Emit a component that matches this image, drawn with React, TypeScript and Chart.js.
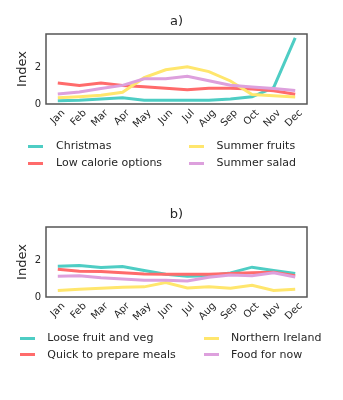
import React, { useEffect, useRef } from "react";
import { Chart, registerables } from "chart.js";

Chart.register(...registerables);

// ---------- data ----------
const months = ["Jan", "Feb", "Mar", "Apr", "May", "Jun", "Jul", "Aug", "Sep", "Oct", "Nov", "Dec"];
const yTickValues = [0, 2];

// panel a)
const christmas = [0.18, 0.2, 0.27, 0.34, 0.2, 0.2, 0.2, 0.2, 0.27, 0.39, 0.89, 3.59];
const lowCalorie = [1.14, 1.0, 1.14, 1.0, 0.93, 0.85, 0.78, 0.85, 0.85, 0.82, 0.72, 0.53];
const summerFruits = [0.34, 0.4, 0.47, 0.64, 1.43, 1.86, 2.02, 1.76, 1.25, 0.52, 0.45, 0.38];
const summerSalad = [0.54, 0.65, 0.84, 1.01, 1.37, 1.37, 1.51, 1.26, 1.02, 0.92, 0.84, 0.73];

// panel b)
const looseFruit = [1.67, 1.71, 1.6, 1.65, 1.44, 1.24, 1.13, 1.16, 1.31, 1.62, 1.44, 1.27];
const quickMeals = [1.51, 1.4, 1.38, 1.31, 1.25, 1.24, 1.24, 1.24, 1.27, 1.31, 1.35, 1.16];
const northernIreland = [0.35, 0.42, 0.47, 0.53, 0.55, 0.78, 0.49, 0.55, 0.47, 0.64, 0.35, 0.42];
const foodForNow = [1.13, 1.15, 1.05, 0.98, 0.91, 0.91, 0.87, 1.07, 1.2, 1.16, 1.31, 1.09];

const TEAL = "#4ECDC4";
const RED = "#FF6B6B";
const YELLOW = "#FFE66D";
const PLUM = "#DDA0DD";

const FONT = "'DejaVu Sans', sans-serif";
const TEXT = "#262626";

type Series = { name: string; data: number[]; color: string };
type LegendPos = { sym: number; text: number; y: number };

const framePlugin = {
  id: "frameAndLabels",
  afterDraw(chart: any, _args: any, opts: any) {
    const { ctx, chartArea: a } = chart;
    ctx.save();
    ctx.strokeStyle = "#555555";
    ctx.lineWidth = 1.5;
    ctx.strokeRect(a.left - 1, a.top, a.right - a.left + 2, a.bottom - a.top);
    ctx.fillStyle = TEXT;
    ctx.font = `13px ${FONT}`;
    ctx.textAlign = "center";
    ctx.textBaseline = "middle";
    ctx.fillText(opts.title, (a.left + a.right) / 2, 22);
    ctx.translate(23, (a.top + a.bottom) / 2);
    ctx.rotate(-Math.PI / 2);
    ctx.fillText("Index", 0, 0);
    ctx.restore();
  },
};

function Panel({ title, series, top, legend }: { title: string; series: Series[]; top: number; legend: LegendPos[] }) {
  const ref = useRef<HTMLCanvasElement>(null);
  useEffect(() => {
    if (!ref.current) return;
    const chart = new Chart(ref.current, {
      type: "line",
      data: {
        labels: months,
        datasets: series.map((s, i) => ({
          label: s.name,
          data: s.data,
          borderColor: s.color,
          backgroundColor: s.color,
          borderWidth: 3,
          pointRadius: 0,
          tension: 0,
          fill: false,
          order: series.length - i,
        })),
      },
      options: {
        animation: false,
        responsive: false,
        layout: { padding: { left: 0, right: 37, top: 34, bottom: 59 } },
        plugins: {
          legend: { display: false },
          tooltip: { enabled: false },
          frameAndLabels: { title },
        } as any,
        scales: {
          x: {
            type: "category",
            offset: true,
            grid: { display: false, drawTicks: false },
            border: { display: false },
            ticks: {
              autoSkip: false,
              minRotation: 45,
              maxRotation: 45,
              labelOffset: 5.5,
              padding: 3.3,
              color: TEXT,
              font: { family: FONT, size: 10 },
            },
            afterFit: (s: any) => {
              s.height = 30;
            },
          },
          y: {
            min: 0,
            max: 3.8,
            grid: { display: false, drawTicks: false },
            border: { display: false },
            ticks: {
              padding: 6,
              color: TEXT,
              font: { family: FONT, size: 10 },
            },
            afterBuildTicks: (s: any) => {
              s.ticks = yTickValues.map((v) => ({ value: v }));
            },
            afterFit: (s: any) => {
              s.width = 47;
            },
          },
        },
      },
      plugins: [framePlugin],
    });
    return () => chart.destroy();
  }, []);

  return (
    <div style={{ position: "absolute", left: 0, top, width: 343, height: 193 }}>
      <canvas ref={ref} width={343} height={193} style={{ display: "block" }} />
      {series.map((s, i) => {
        const lp = legend[i];
        return (
          <React.Fragment key={s.name}>
            <div
              style={{
                position: "absolute",
                left: lp.sym,
                top: lp.y - 1.5,
                width: 15,
                height: 3,
                background: s.color,
              }}
            />
            <div
              style={{
                position: "absolute",
                left: lp.text,
                top: lp.y - 7,
                height: 14,
                lineHeight: "14px",
                fontFamily: FONT,
                fontSize: 11,
                color: TEXT,
                whiteSpace: "nowrap",
              }}
            >
              {s.name}
            </div>
          </React.Fragment>
        );
      })}
    </div>
  );
}

const seriesA: Series[] = [
  { name: "Christmas", data: christmas, color: TEAL },
  { name: "Low calorie options", data: lowCalorie, color: RED },
  { name: "Summer fruits", data: summerFruits, color: YELLOW },
  { name: "Summer salad", data: summerSalad, color: PLUM },
];

const seriesB: Series[] = [
  { name: "Loose fruit and veg", data: looseFruit, color: TEAL },
  { name: "Quick to prepare meals", data: quickMeals, color: RED },
  { name: "Northern Ireland", data: northernIreland, color: YELLOW },
  { name: "Food for now", data: foodForNow, color: PLUM },
];

const legendA: LegendPos[] = [
  { sym: 28, text: 56, y: 146 },
  { sym: 28, text: 56, y: 163 },
  { sym: 189, text: 216.5, y: 146 },
  { sym: 189, text: 216.5, y: 163 },
];

const legendB: LegendPos[] = [
  { sym: 19.5, text: 47.3, y: 145.3 },
  { sym: 19.5, text: 47.3, y: 161.7 },
  { sym: 203.5, text: 231, y: 145.3 },
  { sym: 203.5, text: 231, y: 161.7 },
];

export default function App() {
  return (
    <div style={{ position: "absolute", left: 0, top: 0, width: 343, height: 400, background: "#fff" }}>
      <Panel title="a)" series={seriesA} top={0} legend={legendA} />
      <Panel title="b)" series={seriesB} top={193} legend={legendB} />
    </div>
  );
}
